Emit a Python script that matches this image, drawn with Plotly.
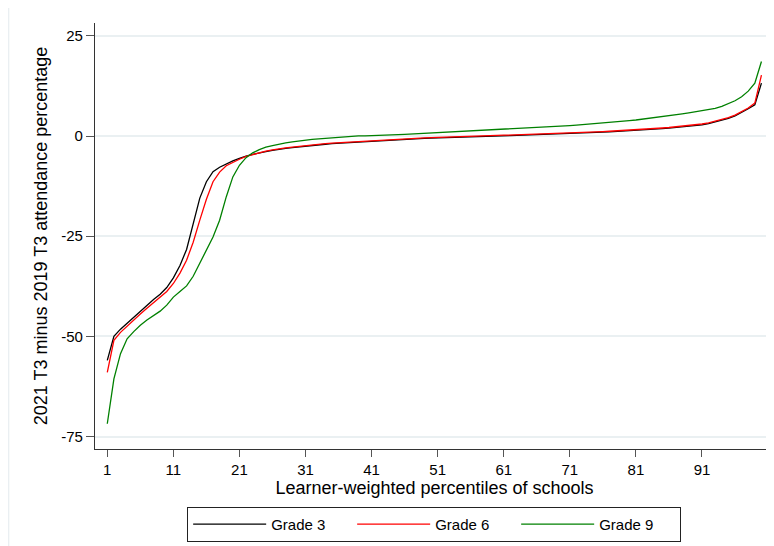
import plotly.graph_objects as go

percentiles = list(range(1, 101))

grade3 = [-56, -50, -48.2, -46.7, -45.2, -43.7, -42.2, -40.8, -39.5, -37.8,
          -35.4, -32.3, -28.3, -22.0, -15.5, -11.4, -8.9, -7.8, -6.9, -6.2,
          -5.6, -5.0, -4.6, -4.2, -3.9, -3.6, -3.3, -3.1, -2.9, -2.7,
          -2.5, -2.35, -2.2, -2.05, -1.9, -1.8, -1.7, -1.6, -1.45, -1.35,
          -1.25, -1.15, -1.05, -0.98, -0.9, -0.82, -0.75, -0.68, -0.6, -0.55,
          -0.48, -0.42, -0.36, -0.3, -0.25, -0.2, -0.15, -0.1, -0.05, 0.0,
          0.05, 0.1, 0.15, 0.2, 0.25, 0.3, 0.36, 0.42, 0.48, 0.54,
          0.6, 0.66, 0.72, 0.8, 0.88, 0.96, 1.04, 1.12, 1.2, 1.3,
          1.4, 1.5, 1.6, 1.72, 1.84, 1.97, 2.1, 2.25, 2.42, 2.6,
          2.8, 3.1, 3.5, 3.9, 4.4, 5.0, 5.8, 6.8, 7.8, 13.2]

grade6 = [-59, -51, -49, -47.4, -45.9, -44.4, -43.0, -41.6, -40.3, -38.8,
          -36.8, -34.2, -31.0, -26.5, -21.0, -15.8, -11.4, -9.0, -7.4, -6.5,
          -5.8, -5.1, -4.6, -4.1, -3.75, -3.45, -3.15, -2.95, -2.75, -2.55,
          -2.35, -2.2, -2.05, -1.9, -1.75, -1.65, -1.55, -1.45, -1.3, -1.2,
          -1.1, -1.0, -0.9, -0.83, -0.75, -0.67, -0.6, -0.53, -0.45, -0.4,
          -0.33, -0.27, -0.21, -0.15, -0.1, -0.05, 0.0, 0.05, 0.1, 0.15,
          0.2, 0.25, 0.3, 0.35, 0.4, 0.45, 0.51, 0.57, 0.63, 0.69,
          0.75, 0.81, 0.87, 0.95, 1.03, 1.11, 1.19, 1.27, 1.35, 1.45,
          1.55, 1.65, 1.76, 1.88, 2.0, 2.13, 2.27, 2.42, 2.6, 2.8,
          3.0, 3.3, 3.7, 4.1, 4.6, 5.2, 6.0, 7.0, 8.2, 15.2]

grade9 = [-71.8, -60.6, -54.3, -50.6, -48.8, -47.2, -45.9, -44.8, -43.7, -42.2,
          -40.2, -38.8, -37.4, -35.0, -31.8, -28.5, -25.2, -21.0, -15.2, -10.2,
          -7.3, -5.4, -4.2, -3.4, -2.8, -2.4, -2.0, -1.7, -1.45, -1.2,
          -1.0, -0.85, -0.7, -0.55, -0.4, -0.25, -0.1, 0.0, 0.03, 0.05,
          0.08, 0.15, 0.22, 0.3, 0.36, 0.42, 0.5, 0.58, 0.66, 0.74,
          0.82, 0.9, 0.98, 1.06, 1.14, 1.22, 1.3, 1.38, 1.46, 1.54,
          1.62, 1.7, 1.8, 1.9, 2.0, 2.1, 2.2, 2.3, 2.4, 2.5,
          2.6, 2.72, 2.84, 2.96, 3.1, 3.24, 3.38, 3.52, 3.68, 3.84,
          4.0, 4.2, 4.4, 4.6, 4.82, 5.05, 5.3, 5.55, 5.8, 6.05,
          6.3, 6.6, 6.9, 7.4, 8.0, 8.8, 9.8, 11.2, 13.2, 18.6]

x_ticks = [1, 11, 21, 31, 41, 51, 61, 71, 81, 91]
y_ticks = [25, 0, -25, -50, -75]

series = [("Grade 3", grade3, "#000000"),
          ("Grade 6", grade6, "#ff0000"),
          ("Grade 9", grade9, "#008000")]

FONT = "Liberation Sans, Arial, sans-serif"

fig = go.Figure()
for name, vals, color in series:
    fig.add_trace(go.Scatter(x=percentiles, y=vals, mode="lines", name=name,
                             line=dict(color=color, width=1.3)))

# page body has an 8px margin, so the figure is sized to fit the window
fig.update_layout(
    width=766, height=538,
    margin=dict(l=87, r=0, t=15, b=97, pad=0),
    paper_bgcolor="white", plot_bgcolor="white",
    font=dict(family=FONT, size=15, color="black"),
    showlegend=True,
    legend=dict(orientation="h", x=0.4995, xanchor="center", y=-0.136, yanchor="top",
                bordercolor="#222", borderwidth=1, bgcolor="white",
                entrywidth=76, entrywidthmode="pixels", itemwidth=73,
                font=dict(size=15)),
    shapes=[dict(type="rect", xref="paper", yref="paper",
                 x0=-0.127, x1=1.05, y0=-0.3, y1=1.047,
                 line=dict(color="#e3eaed", width=1), layer="below")],
)

fig.update_xaxes(range=[-0.86, 101.9], tickvals=x_ticks, ticktext=[str(t) for t in x_ticks],
                 showline=True, linecolor="#333", linewidth=1.3, ticks="outside",
                 ticklen=7, tickcolor="#555", showgrid=False, zeroline=False,
                 title=dict(text="Learner-weighted percentiles of schools", standoff=3),
                 tickfont=dict(size=15))
fig.update_yaxes(range=[-78.1, 28.2], tickvals=y_ticks, ticktext=[str(t) for t in y_ticks],
                 showline=True, linecolor="#333", linewidth=1.3, ticks="outside",
                 ticklen=8, tickcolor="#555", showgrid=True, gridcolor="#eaf0f2",
                 gridwidth=1.5, zeroline=False,
                 title=dict(text="2021 T3 minus 2019 T3 attendance percentage", standoff=8),
                 tickfont=dict(size=15))

fig.write_html("out.html")
